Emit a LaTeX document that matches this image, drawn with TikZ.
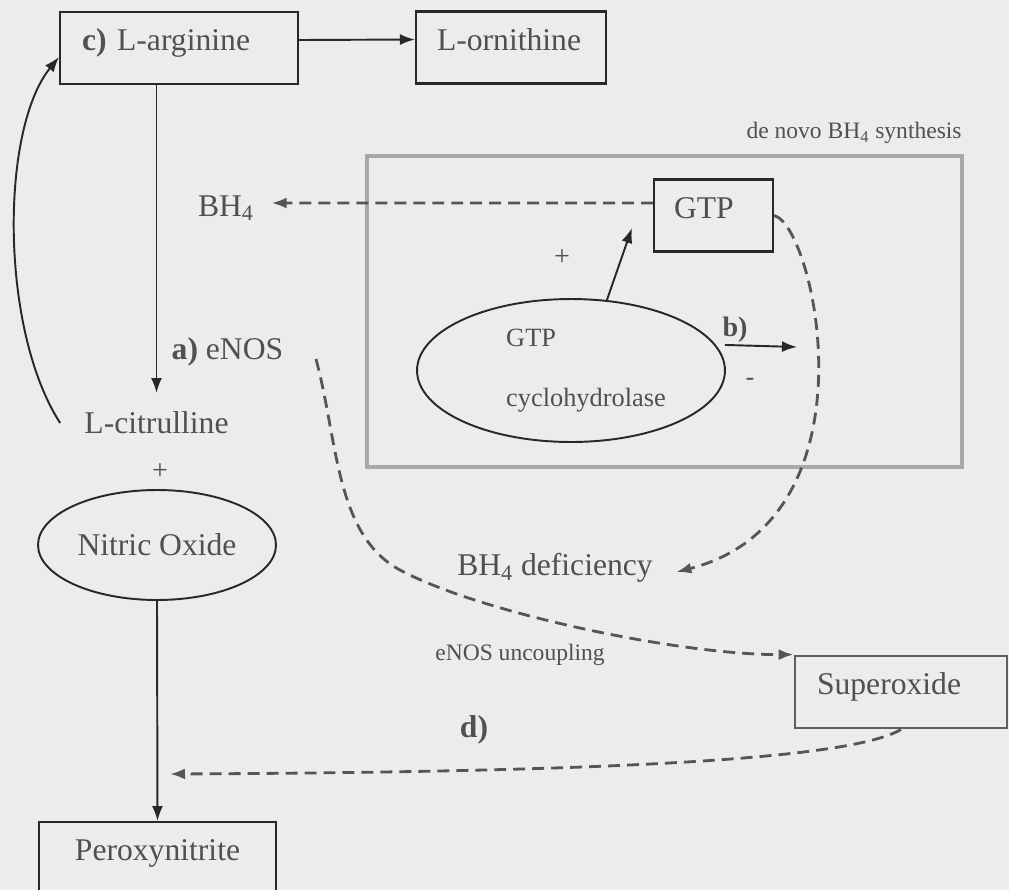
\documentclass[tikz,border=0pt]{standalone}
\usepackage{fontspec}
\setmainfont{Liberation Serif}
\usetikzlibrary{arrows.meta,shapes.geometric}
\definecolor{pagegray}{RGB}{236,236,236}
\definecolor{inkgray}{RGB}{80,80,80}
\definecolor{dashgray}{RGB}{85,85,85}
\definecolor{framegray}{RGB}{168,168,168}
\definecolor{linegray}{RGB}{40,40,40}
\definecolor{supgray}{RGB}{95,95,95}
\newcommand{\bigtxt}{\fontsize{18}{21}\selectfont}
\newcommand{\midtxt}{\fontsize{15}{18}\selectfont}
\newcommand{\smalltxt}{\fontsize{13.4}{16}\selectfont}
\tikzset{
  chembox/.style={draw=linegray, line width=1.2pt, inner ysep=0pt, text height=22pt, text depth=19pt, align=left, text=inkgray, font=\bigtxt},
  chemoval/.style={ellipse, draw=linegray, line width=1.1pt, inner sep=0pt, text=inkgray},
  plain/.style={text=inkgray, font=\bigtxt},
  flow/.style={draw=linegray, line width=1.1pt, -{Latex[length=0.3cm,width=0.22cm]}},
  dflow/.style={draw=dashgray, line width=1.6pt, dash pattern=on 6.8pt off 4pt, -{Latex[length=0.3cm,width=0.22cm]}},
}
\begin{document}
\begin{tikzpicture}[x=0.02cm, y=-0.02cm]
% page
\fill[pagegray] (0,0) rectangle (1009,890);
\useasboundingbox (0,0) rectangle (1009,890);
\clip (0,0) rectangle (1009,890);
% de novo frame
\draw[framegray, line width=2.8pt] (367,156) rectangle (962,467);
\node[plain, font=\smalltxt, anchor=east, inner sep=0pt] (denovo) at (962,133) {de novo BH\textsubscript{4} synthesis};
% arginine pathway
\node[chembox, inner xsep=0.44cm, text width=3.88cm] (arg) at (179,48) {\textbf{c)} L-arginine};
\node[chembox, inner xsep=0.42cm, text width=2.96cm] (orn) at (511,47.5) {L-ornithine};
\node[plain, inner xsep=0.48cm, inner ysep=0.37cm] (cit) at (156.5,423) {L-citrulline};
\node[plain, font=\fontsize{16}{19}\selectfont] (plus1) at (160,472) {+};
\node[chemoval, font=\bigtxt, minimum width=4.76cm, minimum height=2.2cm] (no) at (157,545) {Nitric Oxide};
\node[chembox, align=center, inner xsep=0.4cm, text width=3.94cm, text depth=20pt, anchor=north] (perox) at (157.5,821) {Peroxynitrite};
\node[plain, anchor=west] (enos) at (165.5,352) {\textbf{a)} eNOS};
\node[plain] (bh4) at (226,208) {BH\textsubscript{4}};
% GTP
\node[chembox, inner xsep=0.4cm, text width=1.58cm] (gtp) at (713.5,215.5) {GTP};
\node[chemoval, font=\midtxt, align=left, minimum width=6.16cm, minimum height=2.86cm] (cyc) at (571,370.5) {\hspace*{0.6cm}GTP\\[16pt]\hspace*{0.6cm}cyclohydrolase};
\node[plain, font=\fontsize{16}{19}\selectfont] (plus2) at (562,258) {+};
\node[plain, font=\bfseries\fontsize{16}{19}\selectfont] (blab) at (735,330) {b)};
\node[plain, font=\midtxt] (minus) at (750,382) {-};
\coordinate (btip) at (797,347);
% uncoupling
\node[plain] (bhd) at (555,568) {BH\textsubscript{4} deficiency};
\node[plain, font=\smalltxt] (unc) at (520,655) {eNOS uncoupling};
\node[chembox, draw=supgray, line width=1.6pt, inner xsep=0.44cm, text width=3.36cm] (sup) at (901,692) {Superoxide};
\node[plain, font=\bfseries\bigtxt] (dlab) at (474,730) {d)};
\coordinate (dtip) at (170,774);
% connectors
\draw[flow] ([yshift=0.16cm]arg.east) -- ([yshift=0.16cm]orn.west);
\draw[flow] (arg.south -| cit.north) -- (cit.north);
\draw[flow] (cit.west) .. controls (0,330) and (0,130) .. ([yshift=-0.18cm]arg.west);
\draw[flow] (no.south) -- (perox.north);
\draw[flow] (cyc.63) -- ([xshift=-0.42cm,yshift=-0.25cm]gtp.west);
\draw[flow] ([xshift=0.18cm]cyc.10) -- (btip);
\draw[dflow] ([yshift=0.25cm]gtp.west) -- ([xshift=0.23cm,yshift=0.1cm]bh4.east);
\draw[dflow] (gtp.east) .. controls (815,225) and (880,520) .. ([xshift=0.35cm,yshift=-0.08cm]bhd.east);
\draw[dflow] ([xshift=0.53cm,yshift=-0.14cm]enos.east) .. controls (338,440) and (335,535) .. (400,570) .. controls (480,613) and (680,655) .. (sup.north west);
\draw[dflow] (sup.south) .. controls (850,760) and (600,772) .. (dtip);
\end{tikzpicture}
\end{document}
